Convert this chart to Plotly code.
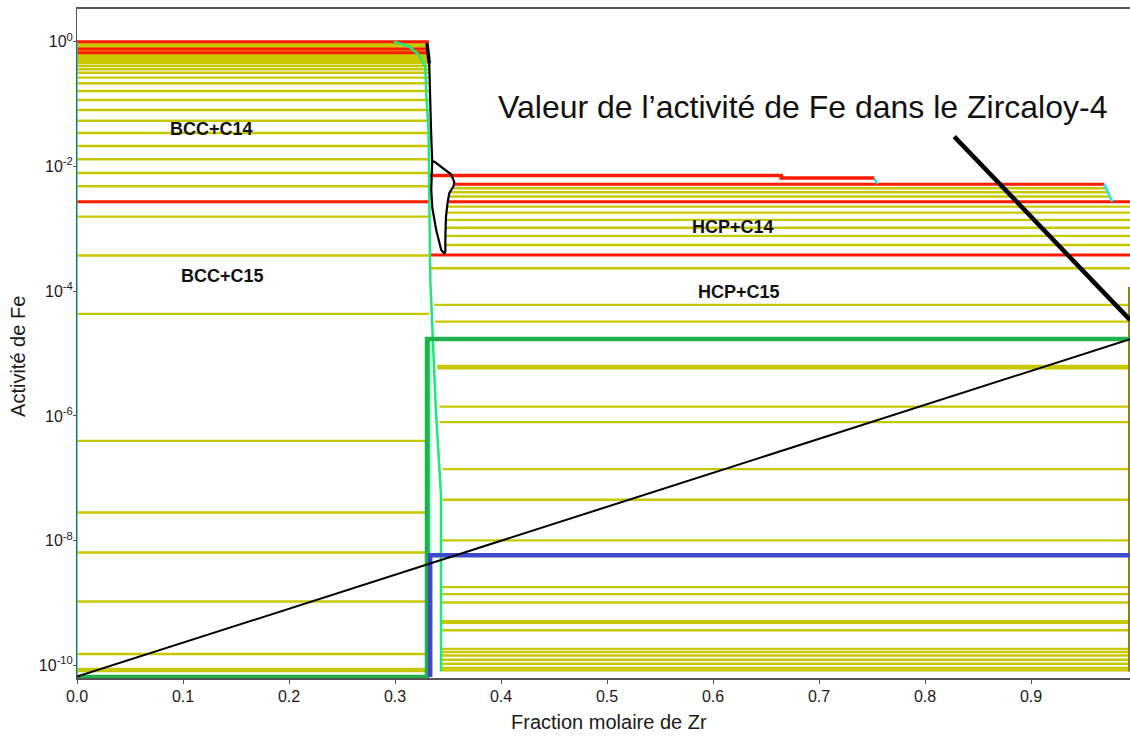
import plotly.graph_objects as go

# ---- data (x = fraction molaire de Zr, y = activité de Fe)
# tie lines of the left field (BCC + Laves), running from x=0 to the Laves boundary
left_red = [1.0, 0.76, 0.665, 2.72e-3]
left_yellow = [0.95, 0.92, 0.885, 0.85, 0.82, 0.71, 0.634, 0.60, 0.568, 0.537, 0.508, 0.481, 0.455,
               0.408, 0.361, 0.318, 0.265, 0.215, 0.162, 0.116, 0.0803, 0.0541, 0.0344,
               0.0213, 0.0130, 7.86e-3, 4.81e-3, 1.57e-3, 3.74e-4, 4.33e-5, 3.98e-7,
               2.83e-8, 6.46e-9, 1.06e-9, 1.52e-10, 8.75e-11, 8.13e-11]
left_end = 0.332

# tie lines of the right field (HCP + Laves)
right_yellow = [4.47e-3, 3.85e-3, 3.30e-3, 2.27e-3, 1.82e-3, 1.39e-3, 1.04e-3, 7.69e-4, 5.51e-4,
                2.33e-4, 6.02e-5, 3.25e-5, 6.3e-6, 5.8e-6, 1.41e-6, 7.94e-7, 1.40e-7, 4.52e-8,
                1.01e-8, 1.80e-9, 1.39e-9, 1.02e-9, 5.1e-10, 4.83e-10, 3.66e-10, 1.83e-10,
                1.63e-10, 1.44e-10, 1.23e-10, 1.06e-10, 9.08e-11, 8.32e-11]
right_start = [0.355, 0.352, 0.351, 0.349, 0.349, 0.348, 0.348, 0.347, 0.347,
               0.334, 0.337, 0.338, 0.340, 0.340, 0.342, 0.342, 0.345, 0.345,
               0.344, 0.344, 0.344, 0.344, 0.344, 0.344, 0.344, 0.344,
               0.344, 0.344, 0.344, 0.344, 0.344, 0.344]
right_end = [0.970, 0.972, 0.974] + [1.0] * 29

right_red = [5.18e-3, 2.72e-3, 3.81e-4]
right_red_start = [0.356, 0.349, 0.334]
right_red_end = [0.9692, 1.0, 1.0]

# stepped top red boundary
top_red_x = [0.333, 0.6644, 0.6644, 0.7522]
top_red_y = [7.16e-3, 7.16e-3, 6.53e-3, 6.53e-3]

cyan_a_x = [0.7522, 0.7550]
cyan_a_y = [6.53e-3, 5.18e-3]
cyan_b_x = [0.9692, 0.9767]
cyan_b_y = [5.18e-3, 2.72e-3]

# BCC / Laves boundary (light green)
bnd_x = [0.299, 0.3135, 0.3229, 0.3286, 0.3298, 0.3317, 0.3324, 0.3328, 0.3333, 0.3387, 0.3434, 0.3434]
bnd_y = [1.0, 0.83, 0.611, 0.397, 0.116, 0.0384, 2.9e-3, 4.58e-4, 1.51e-4, 1.12e-6, 5.43e-8, 8.0e-11]
bnd2_x = [0.3322, 0.3322]
bnd2_y = [1.71e-5, 6.5e-11]

# C14 single phase region (black)
c14_x = [0.3302, 0.3323, 0.3340, 0.3351, 0.3342, 0.3352, 0.3389, 0.3436, 0.3465,
         0.3475, 0.3475, 0.3481, 0.3496, 0.3512, 0.3553, 0.3559, 0.3528, 0.3371, 0.3351]
c14_y = [0.94, 0.45, 0.0384, 0.0119, 4.2e-3, 2.16e-3, 9.58e-4, 4.58e-4, 4.03e-4,
         4.31e-4, 7.41e-4, 1.55e-3, 2.6e-3, 3.72e-3, 4.86e-3, 5.64e-3, 7.49e-3, 0.0119, 0.0119]

# HCP boundary at the right edge
hcp_x = [0.9925, 0.9925]
hcp_y = [1.17e-4, 8.0e-11]

# composition paths
green_x = [0.0, 0.3302, 0.3302, 1.0]
green_y = [6.5e-11, 6.5e-11, 1.71e-5, 1.71e-5]
blue_x = [0.3332, 0.3332, 1.0]
blue_y = [6.5e-11, 5.83e-9, 5.83e-9]
diag_x = [0.0, 0.9934]
diag_y = [6.6e-11, 1.70e-5]

arrow_x = [0.8276, 0.9934]
arrow_y = [0.030, 3.47e-5]

x_ticks = [0.0, 0.1, 0.2, 0.3, 0.4, 0.5, 0.6, 0.7, 0.8, 0.9]
y_ticks = [1, 1e-2, 1e-4, 1e-6, 1e-8, 1e-10]
y_ticktext = ["10<sup>0</sup>", "10<sup>-2</sup>", "10<sup>-4</sup>", "10<sup>-6</sup>",
              "10<sup>-8</sup>", "10<sup>-10</sup>"]

FONT = "Liberation Sans, Arial, sans-serif"


def hlines(vals, starts, ends):
    xs, ys = [], []
    for v, a, b in zip(vals, starts, ends):
        xs += [a, b, None]
        ys += [v, v, None]
    return xs, ys


fig = go.Figure()

def add(x, y, color, width):
    fig.add_trace(go.Scatter(x=x, y=y, mode="lines", line=dict(color=color, width=width),
                             hoverinfo="skip", showlegend=False))

YEL = "#c8c800"
RED = "#ff1a00"

x, y = hlines(left_yellow, [0.0] * len(left_yellow), [left_end] * len(left_yellow))
add(x, y, YEL, 2.4)
x, y = hlines(right_yellow, right_start, right_end)
add(x, y, YEL, 2.4)
x, y = hlines(left_red, [0.0] * len(left_red), [left_end] * len(left_red))
add(x, y, RED, 3)
x, y = hlines(right_red, right_red_start, right_red_end)
add(x, y, RED, 3)
add(top_red_x, top_red_y, RED, 3.5)
add(cyan_a_x, cyan_a_y, "#1fd8d8", 2)
add(cyan_b_x, cyan_b_y, "#1fe8e8", 2.5)
add([0.0, 0.0], [1.0, 6.5e-11], "#20c8c8", 1.5)
add(hcp_x, hcp_y, "#8a8200", 2)
add(bnd_x, bnd_y, "#1ee87a", 2.5)
add(bnd2_x, bnd2_y, "#1ee87a", 2.5)
add(c14_x, c14_y, "#000000", 2.2)
add(c14_x[:2], c14_y[:2], "#000000", 3.5)
add(green_x, green_y, "#22b04c", 4.5)
add(blue_x, blue_y, "#3f4acb", 4.5)
add(diag_x, diag_y, "#000000", 2)
add(arrow_x, arrow_y, "#000000", 4.5)

labels = [("BCC+C14", 0.1270, -1.407), ("BCC+C15", 0.1368, -3.761),
          ("HCP+C14", 0.619, -2.973), ("HCP+C15", 0.6246, -4.01)]
annotations = []
for txt, ax, ay in labels:
    annotations.append(dict(x=ax, y=ay, xref="x", yref="y", text="<b>" + txt + "</b>",
                            showarrow=False, font=dict(family=FONT, size=18, color="#111111")))
annotations.append(dict(x=0.6847, y=-1.04, xref="x", yref="y",
                        text="Valeur de l’activité de Fe dans le Zircaloy-4",
                        showarrow=False, font=dict(family=FONT, size=32, color="#111111")))
# axis titles, placed as in the original figure
annotations.append(dict(x=0.5052, y=-0.066, xref="paper", yref="paper",
                        xanchor="center", yanchor="middle",
                        text="Fraction molaire de Zr", showarrow=False,
                        font=dict(family=FONT, size=20, color="#1a1a1a")))
annotations.append(dict(x=-0.056, y=0.48, xref="paper", yref="paper", textangle=-90,
                        xanchor="center", yanchor="middle",
                        text="Activité de Fe", showarrow=False,
                        font=dict(family=FONT, size=20, color="#1a1a1a")))

fig.update_layout(
    width=1130, height=738,
    margin=dict(l=77, r=0, t=9, b=60),
    plot_bgcolor="white", paper_bgcolor="white",
    font=dict(family=FONT, color="#1a1a1a"),
    annotations=annotations,
    showlegend=False,
)
fig.update_xaxes(range=[0, 0.9934], tickvals=x_ticks, ticktext=["%.1f" % v for v in x_ticks],
                 showgrid=False, zeroline=False, showline=True, linecolor="#555555", linewidth=1.5,
                 mirror=True, ticks="outside", ticklen=4, tickcolor="#555555",
                 tickfont=dict(size=16), ticklabelstandoff=-1)
fig.update_yaxes(type="log", range=[-10.202, 0.524], tickvals=y_ticks, ticktext=y_ticktext,
                 showgrid=False, zeroline=False, showline=True, linecolor="#555555", linewidth=1,
                 ticks="outside", ticklen=3, tickcolor="#555555",
                 tickfont=dict(size=16), ticklabelstandoff=-3)

# drop the default page margin so the figure fills the window
fig.write_html("out.html", config={"displayModeBar": False},
               post_script="document.body.style.margin='0';document.body.style.overflow='hidden';")
